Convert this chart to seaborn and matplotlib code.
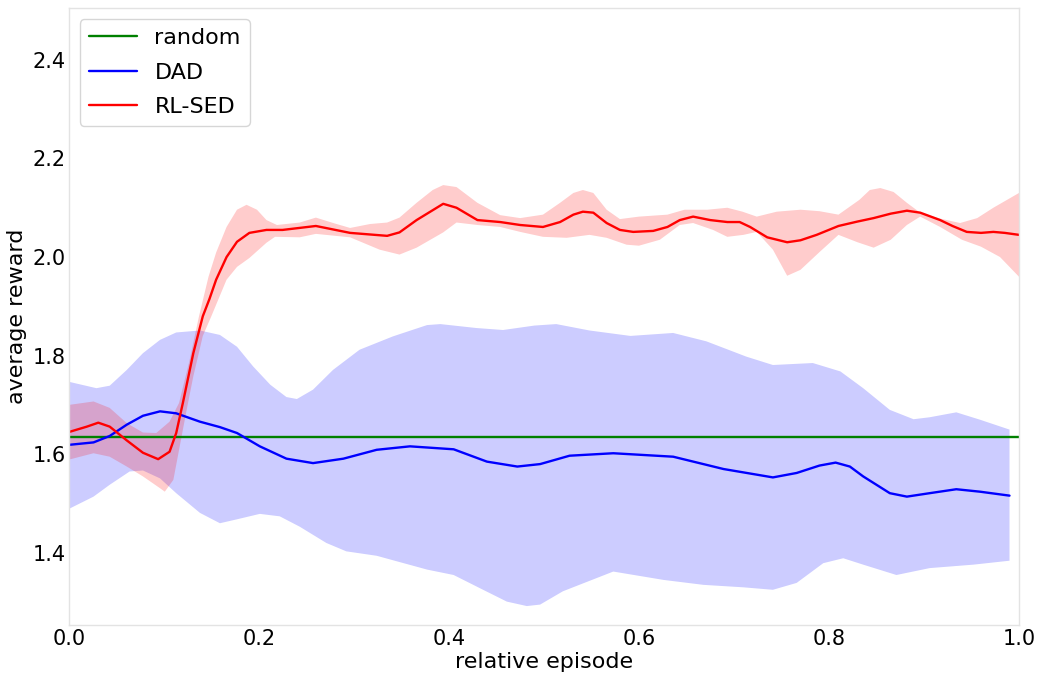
import matplotlib
matplotlib.use("Agg")
import matplotlib.pyplot as plt
import seaborn as sns
import numpy as np

# ---- random baseline ----
random_x = [0.0, 1.0]
random_y = [1.634, 1.634]

# ---- DAD: mean reward and spread ----
dad_x = [0.0, 0.026, 0.043, 0.061, 0.078, 0.096, 0.113, 0.138, 0.159, 0.177,
         0.201, 0.229, 0.257, 0.289, 0.324, 0.359, 0.405, 0.44, 0.472, 0.496,
         0.527, 0.573, 0.636, 0.689, 0.741, 0.766, 0.79, 0.807, 0.822, 0.836,
         0.864, 0.882, 0.906, 0.934, 0.959, 0.99]
dad_mean = [1.619, 1.624, 1.637, 1.660, 1.678, 1.687, 1.683, 1.666, 1.655, 1.643,
            1.616, 1.591, 1.582, 1.591, 1.609, 1.616, 1.610, 1.585, 1.575, 1.580,
            1.597, 1.602, 1.595, 1.570, 1.553, 1.562, 1.577, 1.583, 1.575, 1.555,
            1.521, 1.514, 1.521, 1.529, 1.524, 1.516]

dad_hi_x = [0.0, 0.029, 0.043, 0.061, 0.078, 0.096, 0.113, 0.138, 0.159, 0.177,
            0.194, 0.212, 0.229, 0.24, 0.257, 0.278, 0.306, 0.341, 0.377, 0.391,
            0.429, 0.457, 0.49, 0.513, 0.548, 0.591, 0.636, 0.671, 0.713, 0.741,
            0.783, 0.812, 0.836, 0.864, 0.889, 0.906, 0.934, 0.959, 0.99]
dad_hi = [1.747, 1.734, 1.739, 1.771, 1.805, 1.832, 1.847, 1.851, 1.842, 1.818,
          1.778, 1.741, 1.716, 1.712, 1.731, 1.771, 1.812, 1.839, 1.862, 1.864,
          1.856, 1.852, 1.861, 1.864, 1.851, 1.840, 1.846, 1.829, 1.798, 1.781,
          1.785, 1.768, 1.734, 1.690, 1.671, 1.675, 1.685, 1.670, 1.650]

dad_lo_x = [0.0, 0.026, 0.043, 0.064, 0.078, 0.096, 0.113, 0.138, 0.159, 0.177,
            0.201, 0.222, 0.243, 0.271, 0.292, 0.324, 0.377, 0.405, 0.436, 0.461,
            0.482, 0.496, 0.52, 0.573, 0.626, 0.668, 0.71, 0.741, 0.766, 0.794,
            0.815, 0.836, 0.871, 0.906, 0.952, 0.99]
dad_lo = [1.489, 1.514, 1.538, 1.565, 1.567, 1.551, 1.521, 1.481, 1.460, 1.468,
          1.479, 1.474, 1.453, 1.420, 1.403, 1.394, 1.366, 1.355, 1.325, 1.301,
          1.292, 1.295, 1.322, 1.362, 1.345, 1.335, 1.330, 1.325, 1.339, 1.379,
          1.389, 1.376, 1.355, 1.369, 1.376, 1.384]

# ---- RL-SED: mean reward and spread ----
rl_x = [0.0, 0.019, 0.031, 0.043, 0.061, 0.078, 0.094, 0.106, 0.113, 0.12,
        0.131, 0.141, 0.148, 0.155, 0.166, 0.177, 0.19, 0.208, 0.225, 0.26,
        0.296, 0.335, 0.348, 0.366, 0.394, 0.408, 0.43, 0.454, 0.475, 0.499,
        0.517, 0.531, 0.541, 0.552, 0.566, 0.58, 0.594, 0.615, 0.63, 0.643,
        0.657, 0.675, 0.693, 0.706, 0.717, 0.735, 0.756, 0.77, 0.787, 0.81,
        0.83, 0.847, 0.865, 0.882, 0.896, 0.917, 0.93, 0.945, 0.96, 0.973,
        0.985, 1.0]
rl_mean = [1.645, 1.656, 1.664, 1.656, 1.628, 1.603, 1.590, 1.605, 1.643, 1.704,
           1.805, 1.880, 1.915, 1.954, 2.000, 2.031, 2.049, 2.055, 2.055, 2.063,
           2.049, 2.043, 2.050, 2.075, 2.108, 2.100, 2.075, 2.071, 2.065, 2.061,
           2.071, 2.086, 2.092, 2.090, 2.069, 2.055, 2.051, 2.053, 2.061, 2.075,
           2.082, 2.075, 2.071, 2.071, 2.061, 2.040, 2.030, 2.034, 2.045, 2.063,
           2.072, 2.079, 2.088, 2.094, 2.090, 2.075, 2.063, 2.051, 2.049, 2.051,
           2.049, 2.045]

rl_hi_x = [0.0, 0.026, 0.043, 0.061, 0.078, 0.092, 0.106, 0.116, 0.127, 0.137,
           0.147, 0.155, 0.166, 0.177, 0.187, 0.198, 0.208, 0.219, 0.243, 0.26,
           0.28, 0.296, 0.317, 0.335, 0.348, 0.366, 0.383, 0.394, 0.408, 0.43,
           0.454, 0.475, 0.499, 0.517, 0.531, 0.541, 0.552, 0.566, 0.58, 0.6,
           0.63, 0.648, 0.672, 0.693, 0.709, 0.724, 0.745, 0.77, 0.79, 0.81,
           0.832, 0.843, 0.854, 0.868, 0.882, 0.896, 0.917, 0.938, 0.956, 0.973,
           1.0]
rl_hi = [1.700, 1.707, 1.694, 1.663, 1.644, 1.643, 1.666, 1.704, 1.790, 1.880,
         1.960, 2.009, 2.061, 2.096, 2.106, 2.096, 2.075, 2.065, 2.070, 2.080,
         2.068, 2.059, 2.067, 2.070, 2.080, 2.110, 2.136, 2.146, 2.142, 2.110,
         2.085, 2.079, 2.086, 2.110, 2.130, 2.136, 2.130, 2.096, 2.077, 2.082,
         2.086, 2.096, 2.096, 2.100, 2.092, 2.082, 2.092, 2.096, 2.093, 2.086,
         2.116, 2.136, 2.140, 2.132, 2.110, 2.090, 2.078, 2.069, 2.079, 2.100,
         2.130]

rl_lo_x = [0.0, 0.026, 0.043, 0.061, 0.078, 0.096, 0.101, 0.11, 0.116, 0.124,
           0.131, 0.141, 0.15, 0.166, 0.177, 0.19, 0.208, 0.217, 0.243, 0.26,
           0.296, 0.327, 0.348, 0.366, 0.394, 0.408, 0.43, 0.454, 0.475, 0.499,
           0.524, 0.548, 0.566, 0.587, 0.6, 0.622, 0.643, 0.657, 0.678, 0.693,
           0.71, 0.724, 0.741, 0.756, 0.77, 0.79, 0.81, 0.83, 0.847, 0.865,
           0.882, 0.896, 0.917, 0.94, 0.96, 0.98, 1.0]
rl_lo = [1.589, 1.602, 1.595, 1.575, 1.555, 1.531, 1.524, 1.548, 1.609, 1.690,
         1.758, 1.840, 1.880, 1.954, 1.980, 1.998, 2.029, 2.041, 2.040, 2.047,
         2.040, 2.015, 2.005, 2.019, 2.050, 2.070, 2.065, 2.061, 2.051, 2.041,
         2.039, 2.045, 2.039, 2.025, 2.023, 2.035, 2.065, 2.069, 2.055, 2.041,
         2.045, 2.051, 2.015, 1.962, 1.974, 2.010, 2.045, 2.030, 2.019, 2.035,
         2.065, 2.082, 2.061, 2.035, 2.021, 2.000, 1.960]

sns.set_theme(style="whitegrid")
plt.rcParams["font.family"] = ["DejaVu Sans"]
for key in ("text.color", "axes.labelcolor", "xtick.color", "ytick.color"):
    plt.rcParams[key] = "black"

fig, ax = plt.subplots(figsize=(10.43, 6.74), dpi=100)
fig.subplots_adjust(left=0.066, right=0.977, top=0.988, bottom=0.073)

lw = 1.7
sns.lineplot(x=random_x, y=random_y, color="green", lw=lw, label="random", ax=ax)

sns.lineplot(x=dad_x, y=dad_mean, color="blue", lw=lw, label="DAD", ax=ax)
ax.fill(np.concatenate([dad_hi_x, dad_lo_x[::-1]]),
        np.concatenate([dad_hi, dad_lo[::-1]]),
        color="blue", alpha=0.2, lw=0)

sns.lineplot(x=rl_x, y=rl_mean, color="red", lw=lw, label="RL-SED", ax=ax)
ax.fill(np.concatenate([rl_hi_x, rl_lo_x[::-1]]),
        np.concatenate([rl_hi, rl_lo[::-1]]),
        color="red", alpha=0.2, lw=0)

ax.grid(False)
ax.set_xlim(0.0, 1.0)
ax.set_ylim(1.254, 2.505)
ax.set_xticks([0.0, 0.2, 0.4, 0.6, 0.8, 1.0])
ax.set_yticks([1.4, 1.6, 1.8, 2.0, 2.2, 2.4])
ax.tick_params(axis="both", labelsize=15, length=0)
ax.tick_params(axis="y", pad=2)
ax.tick_params(axis="x", pad=3)
ax.set_xlabel("relative episode", fontsize=16, labelpad=2)
ax.set_ylabel("average reward", fontsize=16, labelpad=4)
for s in ax.spines.values():
    s.set_color("#e3e3e3")
    s.set_linewidth(1.0)

ax.legend(loc="upper left", fontsize=16, frameon=True,
          labelspacing=0.65, handlelength=2.15)

fig.savefig("out.png", dpi=100)
